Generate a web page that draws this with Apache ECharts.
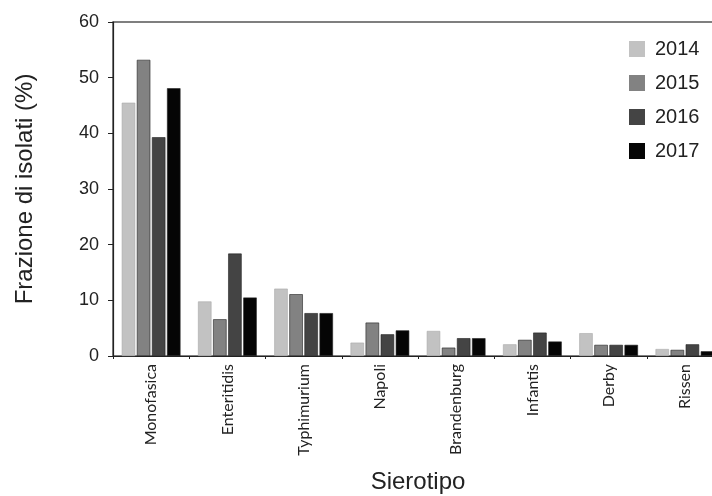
<!DOCTYPE html>
<html>
<head>
<meta charset="utf-8">
<script src="https://cdn.jsdelivr.net/npm/echarts@6/dist/echarts.min.js"></script>
<style>html,body{margin:0;padding:0;background:#fff;}#c{width:712px;height:496px;}</style>
</head>
<body>
<div id="c"></div>
<script>
const categories = ['Monofasica','Enteritidis','Typhimurium','Napoli','Brandenburg','Infantis','Derby','Rissen'];
const years = ['2014','2015','2016','2017'];
const v2014 = [45.5, 9.8, 12.1, 2.4, 4.5, 2.1, 4.1, 1.25];
const v2015 = [53.2, 6.6, 11.1, 6.0, 1.5, 2.9, 2.0, 1.1];
const v2016 = [39.3, 18.4, 7.7, 3.9, 3.2, 4.2, 2.0, 2.1];
const v2017 = [48.1, 10.5, 7.7, 4.6, 3.2, 2.6, 2.0, 0.85];
const yTicks = [0, 10, 20, 30, 40, 50, 60];
const colors = ['#c2c2c2', '#828282', '#444444', '#050505'];

const seriesData = [v2014, v2015, v2016, v2017];
const chart = echarts.init(document.getElementById('c'), null, {renderer: 'canvas'});
chart.setOption({
  animation: false,
  backgroundColor: '#fff',
  grid: {left: 113, top: 22, right: -11, bottom: 140, containLabel: false, outerBoundsMode: 'none',
         show: true, borderColor: '#555', borderWidth: 1.5, backgroundColor: 'transparent'},
  legend: {
    orient: 'vertical', left: 624, top: 34,
    itemWidth: 16, itemHeight: 16, itemGap: 14,
    icon: 'rect',
    itemStyle: {borderWidth: 0},
    textStyle: {fontFamily: 'Liberation Sans, Arial', fontSize: 20, color: '#222', padding: [0, 0, 0, 5]},
    data: years
  },
  xAxis: {
    type: 'category', data: categories,
    name: 'Sierotipo', nameLocation: 'middle', nameGap: 114,
    nameTextStyle: {fontFamily: 'Liberation Sans, Arial', fontSize: 24, color: '#222'},
    axisLine: {lineStyle: {color: '#222', width: 1.2}},
    axisTick: {show: true, length: 3, lineStyle: {color: '#222'}},
    axisLabel: {rotate: 90, interval: 0, margin: 8, fontFamily: 'Lato, Open Sans', fontSize: 16, color: '#222'}
  },
  yAxis: {
    type: 'value', min: yTicks[0], max: yTicks[yTicks.length - 1], interval: 10,
    name: 'Frazione di isolati (%)', nameLocation: 'middle', nameGap: 76,
    nameTextStyle: {fontFamily: 'Liberation Sans, Arial', fontSize: 24, color: '#222'},
    axisLine: {show: true, lineStyle: {color: '#222', width: 1.2}},
    axisTick: {show: true, length: 5, lineStyle: {color: '#222'}},
    axisLabel: {margin: 14, fontFamily: 'Liberation Sans, Arial', fontSize: 18, color: '#222'},
    splitLine: {show: false}
  },
  series: years.map((y, i) => ({
    name: y, type: 'bar', data: seriesData[i],
    barGap: '12%', barCategoryGap: '23%',
    itemStyle: {color: colors[i], borderColor: i === 0 ? '#aaa' : '#222', borderWidth: 0.6}
  }))
});
</script>
</body>
</html>
